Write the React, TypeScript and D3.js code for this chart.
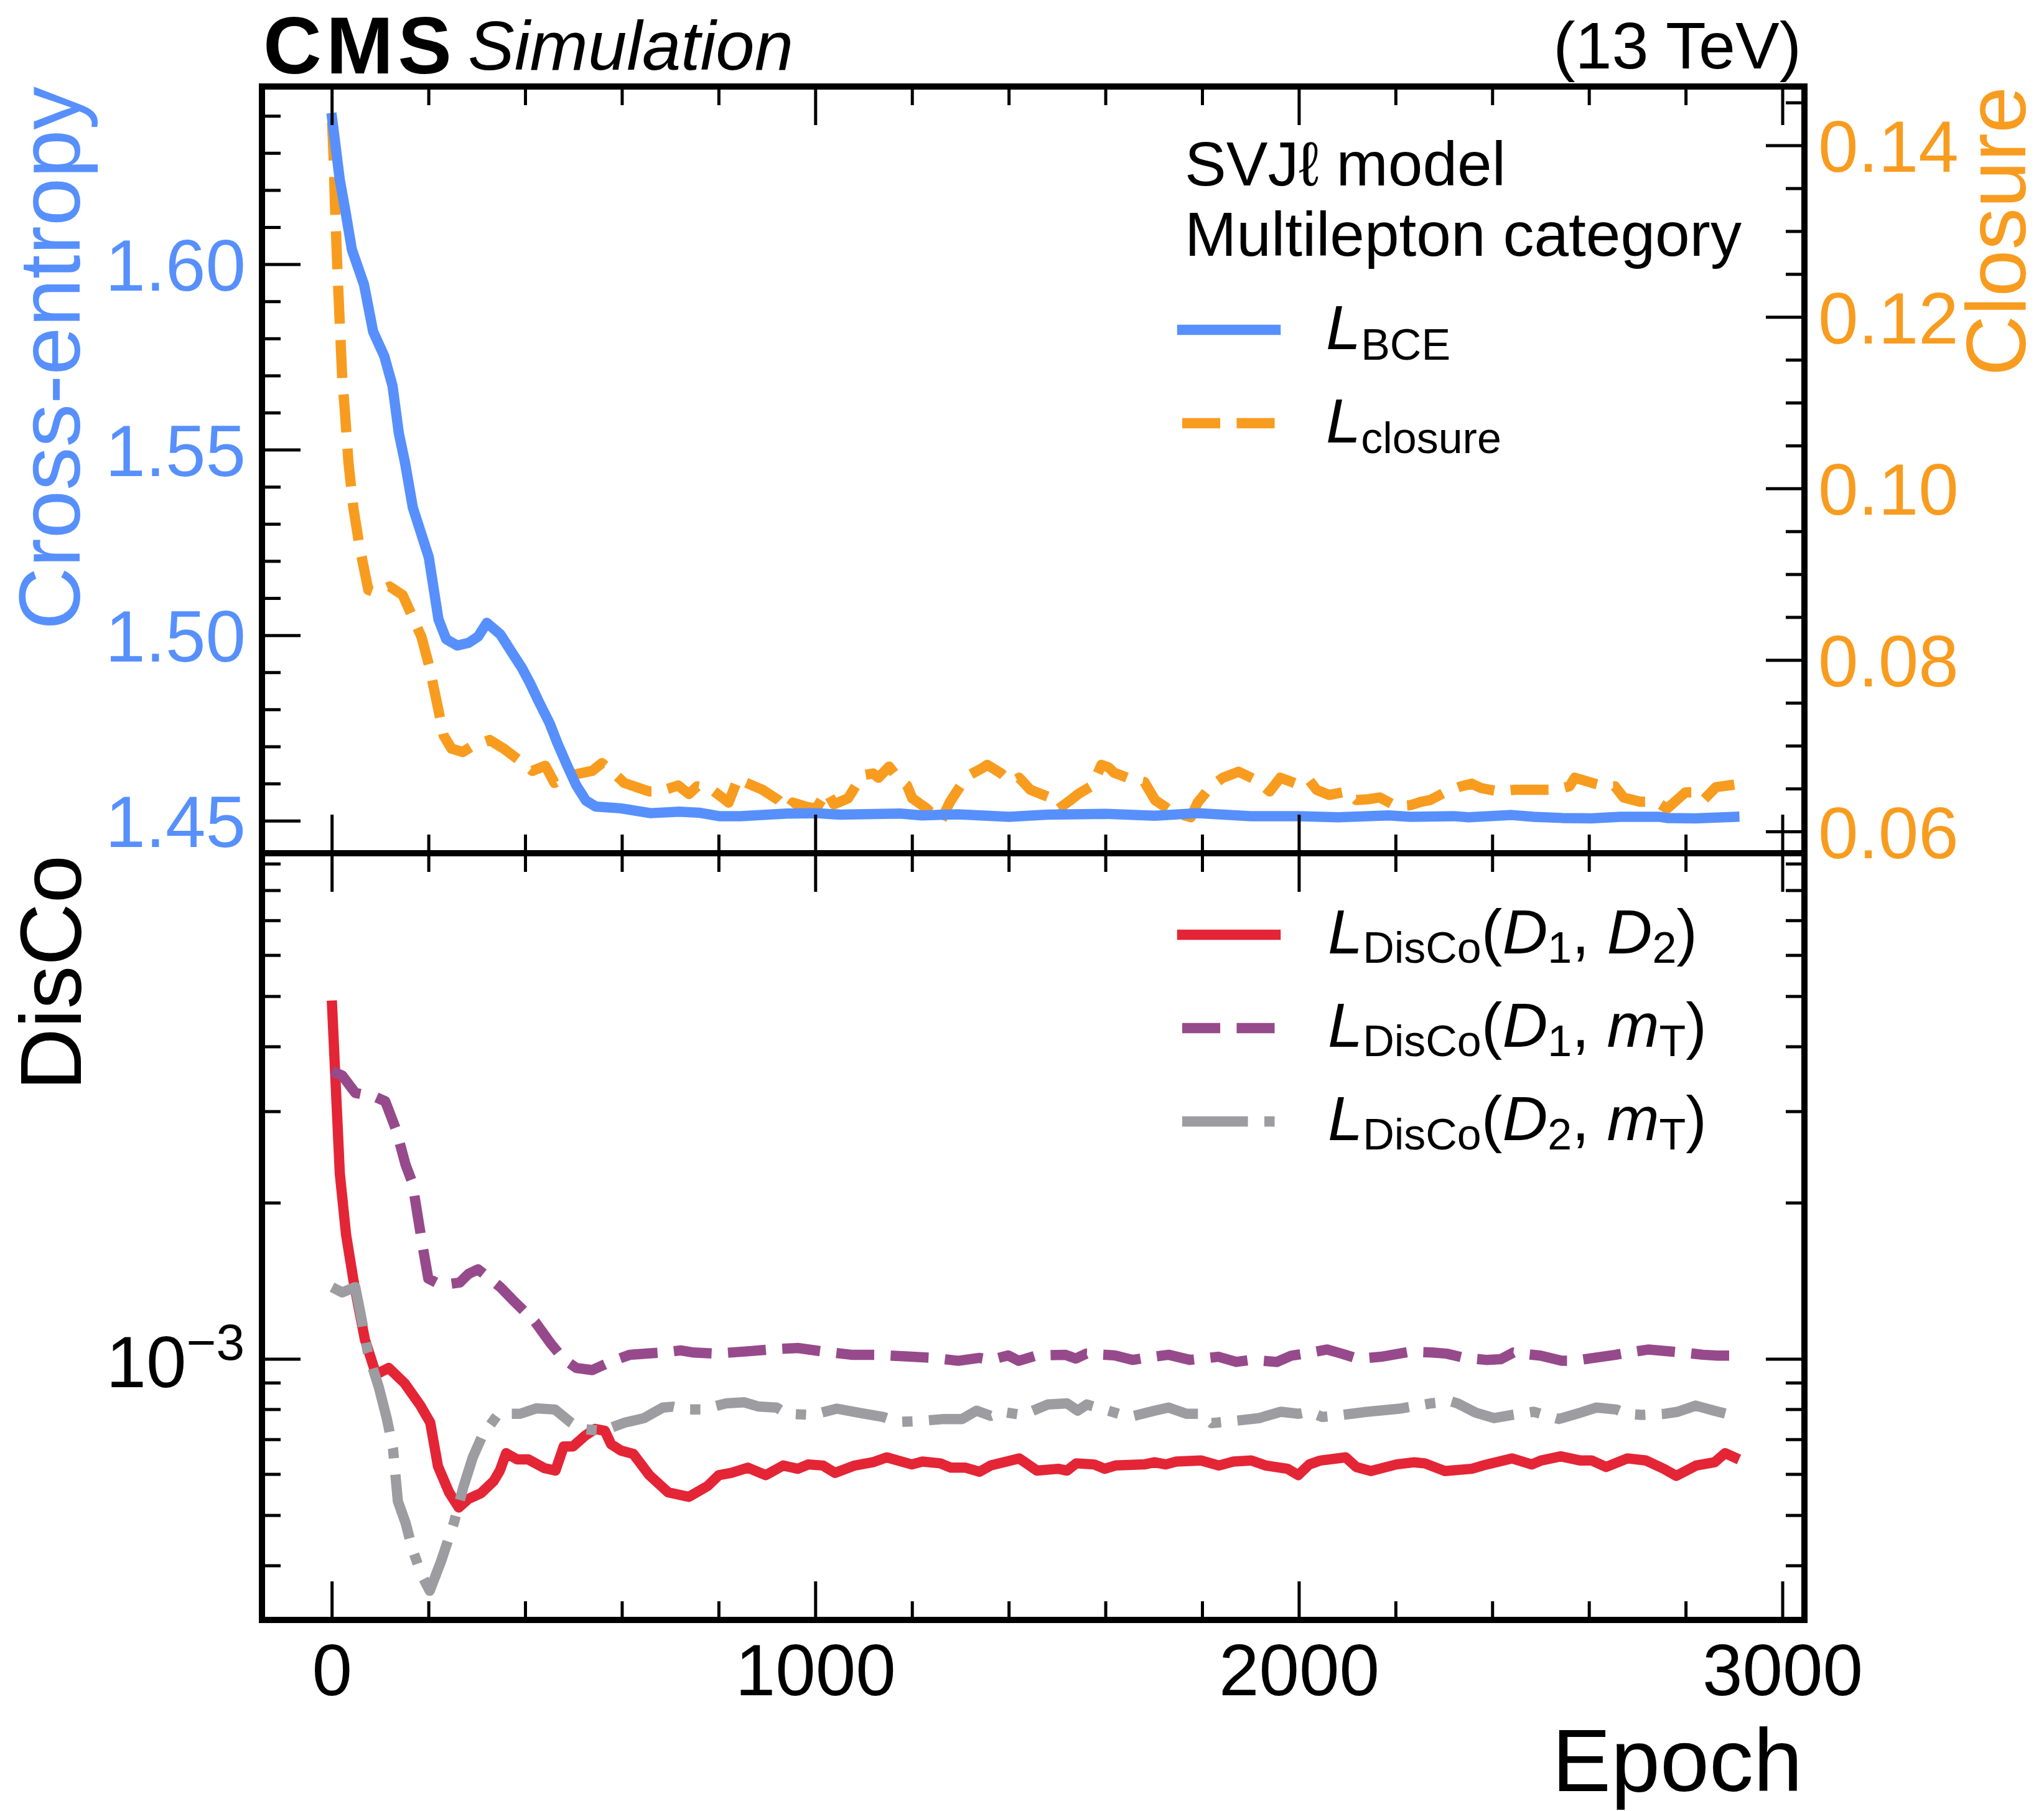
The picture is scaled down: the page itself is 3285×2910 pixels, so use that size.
import React from 'react';
import * as d3 from 'd3';

// ---------------- data ----------------
const ceEpochs = [0, 16, 28, 41, 66, 85, 108, 125, 138, 151, 167, 200, 220, 236, 259, 282, 302, 320, 348, 374, 392, 410, 427, 450, 466, 486, 505, 525, 545, 597, 659, 718, 761, 800, 845, 941, 1000, 1050, 1175, 1220, 1295, 1400, 1480, 1600, 1702, 1790, 1900, 1999, 2081, 2185, 2230, 2320, 2350, 2440, 2485, 2544, 2604, 2664, 2746, 2761, 2821, 2900];
const ceValues = [1.6395, 1.6228, 1.6141, 1.604, 1.5946, 1.5819, 1.5753, 1.5673, 1.5546, 1.5465, 1.5345, 1.5211, 1.5044, 1.499, 1.4973, 1.498, 1.4997, 1.5034, 1.5003, 1.495, 1.4914, 1.487, 1.4823, 1.4763, 1.471, 1.465, 1.4596, 1.4555, 1.4539, 1.4534, 1.4521, 1.4525, 1.4522, 1.4513, 1.4513, 1.452, 1.4521, 1.4517, 1.452, 1.4515, 1.4518, 1.4511, 1.4517, 1.4519, 1.4514, 1.4521, 1.4513, 1.4513, 1.451, 1.4515, 1.4511, 1.4513, 1.451, 1.4516, 1.4511, 1.4508, 1.4507, 1.4511, 1.4511, 1.4508, 1.4507, 1.4511];

const closureEpochs = [0, 3, 6, 11, 16, 21, 26, 34, 44, 57, 75, 90, 119, 146, 162, 185, 201, 214, 231, 247, 270, 290, 326, 355, 388, 414, 441, 460, 486, 538, 558, 578, 604, 656, 676, 716, 738, 755, 781, 809, 820, 840, 853, 890, 923, 942, 953, 982, 1001, 1023, 1038, 1067, 1097, 1119, 1130, 1152, 1170, 1189, 1200, 1230, 1259, 1277, 1300, 1321, 1344, 1355, 1384, 1403, 1421, 1444, 1480, 1503, 1525, 1543, 1573, 1591, 1606, 1617, 1654, 1680, 1702, 1739, 1776, 1790, 1816, 1842, 1875, 1912, 1939, 1961, 1999, 2021, 2036, 2062, 2099, 2118, 2144, 2167, 2200, 2230, 2252, 2271, 2305, 2335, 2357, 2376, 2413, 2447, 2485, 2518, 2544, 2559, 2570, 2612, 2634, 2653, 2671, 2705, 2739, 2761, 2799, 2817, 2836, 2862, 2900];
const closureValues = [0.1427, 0.1389, 0.1331, 0.1256, 0.1192, 0.1129, 0.1094, 0.103, 0.0978, 0.0932, 0.0882, 0.0879, 0.0886, 0.0876, 0.0856, 0.0827, 0.0793, 0.0758, 0.0712, 0.0697, 0.0693, 0.07, 0.0707, 0.0697, 0.0683, 0.0671, 0.0677, 0.0657, 0.0665, 0.0671, 0.068, 0.0671, 0.0657, 0.0647, 0.0647, 0.0654, 0.0644, 0.0653, 0.0651, 0.0639, 0.0634, 0.0663, 0.0658, 0.0649, 0.0637, 0.0626, 0.0634, 0.0629, 0.0627, 0.0647, 0.0632, 0.0639, 0.0666, 0.0668, 0.0663, 0.0676, 0.0663, 0.0654, 0.0639, 0.0627, 0.0612, 0.0634, 0.0654, 0.0667, 0.0674, 0.0678, 0.0668, 0.0658, 0.0663, 0.0649, 0.0641, 0.0627, 0.0636, 0.0644, 0.0654, 0.0678, 0.0675, 0.0669, 0.0661, 0.0658, 0.0637, 0.0623, 0.0617, 0.0634, 0.0652, 0.0663, 0.067, 0.066, 0.0647, 0.0663, 0.0655, 0.066, 0.0649, 0.0643, 0.0647, 0.0637, 0.0638, 0.064, 0.063, 0.0631, 0.0635, 0.0637, 0.0647, 0.0653, 0.0656, 0.0651, 0.0647, 0.0649, 0.0649, 0.0649, 0.0651, 0.0653, 0.0663, 0.0656, 0.0653, 0.0653, 0.064, 0.0635, 0.0635, 0.0627, 0.0646, 0.0646, 0.0637, 0.0652, 0.0655];

const d1d2Epochs = [0, 16, 29, 45, 68, 91, 117, 150, 182, 203, 219, 242, 262, 282, 308, 334, 347, 360, 383, 406, 439, 462, 479, 498, 524, 544, 564, 577, 597, 623, 656, 695, 738, 777, 800, 826, 860, 897, 933, 963, 985, 1015, 1040, 1081, 1118, 1147, 1199, 1221, 1258, 1280, 1310, 1339, 1362, 1421, 1458, 1502, 1520, 1539, 1576, 1598, 1620, 1680, 1701, 1724, 1746, 1797, 1834, 1864, 1901, 1931, 1976, 1998, 2021, 2044, 2096, 2118, 2148, 2201, 2238, 2260, 2301, 2357, 2380, 2440, 2481, 2500, 2541, 2582, 2605, 2635, 2679, 2717, 2754, 2780, 2821, 2859, 2881, 2900];
const d1d2Values = [4.8e-3, 2.28e-3, 1.737e-3, 1.405e-3, 1.09e-3, 9.35e-4, 9.62e-4, 8.99e-4, 8.16e-4, 7.55e-4, 6.22e-4, 5.54e-4, 5.18e-4, 5.38e-4, 5.52e-4, 5.82e-4, 6.1e-4, 6.59e-4, 6.41e-4, 6.41e-4, 6.17e-4, 6.1e-4, 6.79e-4, 6.79e-4, 7.13e-4, 7.34e-4, 7.28e-4, 6.86e-4, 6.67e-4, 6.57e-4, 5.98e-4, 5.54e-4, 5.43e-4, 5.7e-4, 5.98e-4, 6.04e-4, 6.18e-4, 5.98e-4, 6.24e-4, 6.15e-4, 6.27e-4, 6.24e-4, 6.04e-4, 6.24e-4, 6.33e-4, 6.47e-4, 6.27e-4, 6.35e-4, 6.3e-4, 6.18e-4, 6.18e-4, 6.07e-4, 6.24e-4, 6.44e-4, 6.1e-4, 6.15e-4, 6.1e-4, 6.3e-4, 6.27e-4, 6.15e-4, 6.24e-4, 6.27e-4, 6.33e-4, 6.27e-4, 6.35e-4, 6.38e-4, 6.24e-4, 6.35e-4, 6.38e-4, 6.24e-4, 6.15e-4, 5.98e-4, 6.27e-4, 6.38e-4, 6.47e-4, 6.2e-4, 6.09e-4, 6.27e-4, 6.33e-4, 6.3e-4, 6.09e-4, 6.15e-4, 6.24e-4, 6.44e-4, 6.27e-4, 6.38e-4, 6.5e-4, 6.38e-4, 6.38e-4, 6.2e-4, 6.44e-4, 6.38e-4, 6.15e-4, 5.96e-4, 6.24e-4, 6.33e-4, 6.59e-4, 6.47e-4];

const d1mtEpochs = [0, 21, 48, 90, 110, 133, 152, 166, 185, 199, 225, 264, 282, 302, 348, 374, 420, 453, 479, 505, 538, 577, 616, 682, 721, 748, 793, 867, 904, 963, 1015, 1074, 1125, 1199, 1243, 1295, 1339, 1362, 1398, 1420, 1457, 1516, 1538, 1560, 1619, 1656, 1678, 1730, 1774, 1833, 1870, 1900, 1954, 1984, 2010, 2058, 2088, 2122, 2170, 2230, 2275, 2305, 2342, 2387, 2417, 2443, 2458, 2499, 2543, 2569, 2610, 2655, 2681, 2723, 2794, 2835, 2865, 2900];
const d1mtValues = [3.59e-3, 3.52e-3, 3.26e-3, 3.2e-3, 3.14e-3, 2.76e-3, 2.37e-3, 2.19e-3, 1.7e-3, 1.43e-3, 1.39e-3, 1.405e-3, 1.46e-3, 1.49e-3, 1.377e-3, 1.3e-3, 1.18e-3, 1.07e-3, 1.0e-3, 9.62e-4, 9.53e-4, 9.9e-4, 1.02e-3, 1.03e-3, 1.04e-3, 1.03e-3, 1.025e-3, 1.037e-3, 1.044e-3, 1.051e-3, 1.035e-3, 1.02e-3, 1.02e-3, 1.011e-3, 1.006e-3, 9.93e-4, 1.006e-3, 9.97e-4, 1.017e-3, 9.93e-4, 1.017e-3, 1.02e-3, 1.003e-3, 1.025e-3, 1.017e-3, 9.97e-4, 1.005e-3, 1.02e-3, 9.97e-4, 1.011e-3, 9.88e-4, 9.97e-4, 9.88e-4, 1.016e-3, 1.025e-3, 1.044e-3, 1.025e-3, 1.002e-3, 1.011e-3, 1.034e-3, 1.03e-3, 1.025e-3, 1.006e-3, 9.97e-4, 1.0e-3, 1.03e-3, 1.025e-3, 1.016e-3, 9.93e-4, 9.93e-4, 1.006e-3, 1.02e-3, 1.03e-3, 1.044e-3, 1.03e-3, 1.02e-3, 1.016e-3, 1.016e-3];

const d2mtEpochs = [0, 21, 48, 58, 74, 97, 113, 126, 136, 152, 166, 185, 202, 225, 252, 271, 291, 311, 344, 389, 422, 461, 494, 514, 560, 606, 645, 684, 704, 730, 766, 815, 852, 881, 919, 941, 993, 1044, 1088, 1140, 1170, 1214, 1266, 1303, 1333, 1362, 1384, 1428, 1480, 1520, 1542, 1561, 1605, 1649, 1701, 1730, 1767, 1797, 1819, 1863, 1917, 1962, 1999, 2021, 2048, 2089, 2141, 2208, 2272, 2313, 2328, 2365, 2403, 2440, 2485, 2537, 2582, 2615, 2656, 2679, 2708, 2757, 2783, 2820, 2858, 2900];
const d2mtValues = [1.377e-3, 1.345e-3, 1.377e-3, 1.236e-3, 1.03e-3, 8.81e-4, 7.7e-4, 6.73e-4, 5.33e-4, 4.84e-4, 4.31e-4, 3.84e-4, 3.58e-4, 4.07e-4, 4.84e-4, 5.65e-4, 6.47e-4, 7.13e-4, 7.85e-4, 7.85e-4, 8.04e-4, 8.0e-4, 7.55e-4, 7.34e-4, 7.28e-4, 7.55e-4, 7.7e-4, 8.07e-4, 8.1e-4, 8.0e-4, 8.0e-4, 8.22e-4, 8.26e-4, 8.11e-4, 8.07e-4, 7.85e-4, 7.81e-4, 8.03e-4, 7.89e-4, 7.74e-4, 7.57e-4, 7.6e-4, 7.67e-4, 7.67e-4, 7.96e-4, 7.78e-4, 7.92e-4, 7.81e-4, 8.18e-4, 8.22e-4, 7.96e-4, 8.18e-4, 7.96e-4, 7.74e-4, 7.96e-4, 8.07e-4, 7.85e-4, 7.85e-4, 7.53e-4, 7.6e-4, 7.7e-4, 7.92e-4, 7.85e-4, 7.92e-4, 7.74e-4, 7.81e-4, 7.92e-4, 8.03e-4, 8.22e-4, 8.3e-4, 8.22e-4, 7.89e-4, 7.7e-4, 7.81e-4, 7.92e-4, 7.67e-4, 7.89e-4, 8.07e-4, 8.0e-4, 7.85e-4, 7.81e-4, 7.85e-4, 7.92e-4, 8.14e-4, 7.96e-4, 7.78e-4];

const xTickLabels = ['0', '1000', '2000', '3000'];
const ceTickLabels = ['1.45', '1.50', '1.55', '1.60'];
const closureTickLabels = ['0.06', '0.08', '0.10', '0.12', '0.14'];

// ---------------- style ----------------
const FONT = "'Liberation Sans', Arial, Helvetica, sans-serif";
const BLUE = '#5790fc';
const ORANGE = '#f89c20';
const RED = '#e42536';
const PURPLE = '#964a8b';
const GRAY = '#9c9ca1';
const LW = 16.5;
const DASH = `${3.7 * LW} ${1.6 * LW}`;
const DASHDOT = `${6.4 * LW} ${1.6 * LW} ${1 * LW} ${1.6 * LW}`;

const W = 3285, H = 2910;
const PL = 421, PR = 2900, PT = 139, PM = 1371, PB = 2603;
const MAJ = 62, MIN = 30;

export default function App() {
  const x = d3.scaleLinear().domain([-145, 3045]).range([PL, PR]);
  const yCE = d3.scaleLinear().domain([1.4413, 1.648]).range([PM, PT]);
  const yCl = d3.scaleLinear().domain([0.0575, 0.1469]).range([PM, PT]);
  const yLog = d3.scaleLog().domain([3.145e-4, 9.44e-3]).range([PB, PM]);

  const mk = (ys: (v: number) => number) =>
    d3.line<[number, number]>().x(d => x(d[0])).y(d => ys(d[1])).curve(d3.curveLinear);
  const zip = (a: number[], b: number[]) => a.map((e, i) => [e, b[i]] as [number, number]);

  const cePath = mk(yCE)(zip(ceEpochs, ceValues)) || '';
  const clPath = mk(yCl)(zip(closureEpochs, closureValues)) || '';
  const redPath = mk(yLog)(zip(d1d2Epochs, d1d2Values)) || '';
  const purPath = mk(yLog)(zip(d1mtEpochs, d1mtValues)) || '';
  const grayPath = mk(yLog)(zip(d2mtEpochs, d2mtValues)) || '';

  const xMajor = xTickLabels.map(Number);
  const xMinor = d3.range(0, 3001, 200).filter(v => v % 1000 !== 0);
  const ceMinor = d3.range(145, 165, 1).map(v => v / 100).filter(v => Math.round(v * 100) % 5 !== 0);
  const ceMajor = ceTickLabels.map(Number);
  const clMinor = d3.range(60, 146, 5).map(v => v / 1000).filter(v => Math.round(v * 1000) % 20 !== 0);
  const clMajor = closureTickLabels.map(Number);
  const logMinor: number[] = [];
  [1e-4, 1e-3].forEach(dec => d3.range(2, 10).forEach(k => {
    const v = k * dec;
    if (v >= 3.145e-4 && v <= 9.44e-3) logMinor.push(v);
  }));

  const tk = { stroke: '#000', strokeWidth: 5 } as const;

  const xTicks = (yEdge: number, dir: number, key: string) => (
    <g key={key}>
      {xMajor.map(v => <line key={'M' + v} x1={x(v)} x2={x(v)} y1={yEdge} y2={yEdge + dir * MAJ} {...tk} />)}
      {xMinor.map(v => <line key={'m' + v} x1={x(v)} x2={x(v)} y1={yEdge} y2={yEdge + dir * MIN} {...tk} />)}
    </g>
  );

  const legendHandle = (y: number, color: string, dash?: string) => (
    <line x1={1900} x2={2050} y1={y} y2={y} stroke={color} strokeWidth={LW}
      strokeDasharray={dash} strokeLinecap={dash ? 'butt' : 'square'} />
  );

  const SUB = 70, MAIN = 101, SH = 15;
  const discoLabel = (y: number, a: [string, string], b: [string, string], key: string) => (
    <text key={key} x={2134} y={y} fontSize={MAIN} fontFamily={FONT}>
      <tspan fontStyle="italic">L</tspan>
      <tspan fontSize={SUB} dy={SH}>DisCo</tspan>
      <tspan dy={-SH}>(</tspan>
      <tspan fontStyle="italic">{a[0]}</tspan>
      <tspan fontSize={SUB} dy={SH}>{a[1]}</tspan>
      <tspan dy={-SH}>, </tspan>
      <tspan fontStyle="italic">{b[0]}</tspan>
      <tspan fontSize={SUB} dy={SH}>{b[1]}</tspan>
      <tspan dy={-SH}>)</tspan>
    </text>
  );

  return (
    <svg width={W} height={H} viewBox={`0 0 ${W} ${H}`} style={{ position: 'absolute', left: 0, top: 0, background: '#fff' }}
      fontFamily={FONT}>
      <rect x={0} y={0} width={W} height={H} fill="#fff" />
      <defs>
        <clipPath id="clipTop"><rect x={PL} y={PT} width={PR - PL} height={PM - PT} /></clipPath>
        <clipPath id="clipBot"><rect x={PL} y={PM} width={PR - PL} height={PB - PM} /></clipPath>
      </defs>

      {/* data lines */}
      <g clipPath="url(#clipTop)" fill="none" strokeLinejoin="round">
        <path d={clPath} stroke={ORANGE} strokeWidth={LW} strokeDasharray={DASH} strokeLinecap="butt" />
        <path d={cePath} stroke={BLUE} strokeWidth={LW} strokeLinecap="square" />
      </g>
      <g clipPath="url(#clipBot)" fill="none" strokeLinejoin="round">
        <path d={redPath} stroke={RED} strokeWidth={LW} strokeLinecap="square" />
        <path d={purPath} stroke={PURPLE} strokeWidth={LW} strokeDasharray={DASH} strokeLinecap="butt" />
        <path d={grayPath} stroke={GRAY} strokeWidth={LW} strokeDasharray={DASHDOT} strokeLinecap="butt" />
      </g>

      {/* ticks: top panel */}
      {xTicks(PT, 1, 'tt')}
      {xTicks(PM, -1, 'tb')}
      {ceMajor.map(v => <line key={'ceM' + v} x1={PL} x2={PL + MAJ} y1={yCE(v)} y2={yCE(v)} {...tk} />)}
      {ceMinor.map(v => <line key={'cem' + v} x1={PL} x2={PL + MIN} y1={yCE(v)} y2={yCE(v)} {...tk} />)}
      {clMajor.map(v => <line key={'clM' + v} x1={PR} x2={PR - MAJ} y1={yCl(v)} y2={yCl(v)} {...tk} />)}
      {clMinor.map(v => <line key={'clm' + v} x1={PR} x2={PR - MIN} y1={yCl(v)} y2={yCl(v)} {...tk} />)}

      {/* ticks: bottom panel */}
      {xTicks(PM, 1, 'bt')}
      {xTicks(PB, -1, 'bb')}
      <line x1={PL} x2={PL + MAJ} y1={yLog(1e-3)} y2={yLog(1e-3)} {...tk} />
      <line x1={PR} x2={PR - MAJ} y1={yLog(1e-3)} y2={yLog(1e-3)} {...tk} />
      {logMinor.map(v => (
        <g key={'lg' + v}>
          <line x1={PL} x2={PL + MIN} y1={yLog(v)} y2={yLog(v)} {...tk} />
          <line x1={PR} x2={PR - MIN} y1={yLog(v)} y2={yLog(v)} {...tk} />
        </g>
      ))}

      {/* frames */}
      <rect x={PL} y={PT} width={PR - PL} height={PM - PT} fill="none" stroke="#000" strokeWidth={10} />
      <rect x={PL} y={PM} width={PR - PL} height={PB - PM} fill="none" stroke="#000" strokeWidth={10} />

      {/* tick labels */}
      {ceTickLabels.map(s => (
        <text key={'cel' + s} x={395} y={yCE(Number(s)) + 42} fontSize={116} fill={BLUE} textAnchor="end">{s}</text>
      ))}
      {closureTickLabels.map(s => (
        <text key={'cll' + s} x={2922} y={yCl(Number(s)) + 42} fontSize={116} fill={ORANGE} textAnchor="start">{s}</text>
      ))}
      {xTickLabels.map(s => (
        <text key={'xl' + s} x={x(Number(s))} y={2724} fontSize={116} textAnchor="middle">{s}</text>
      ))}
      <text x={393} y={yLog(1e-3) + 45} fontSize={116} textAnchor="end">
        10<tspan fontSize={82} dy={-44}>−3</tspan>
      </text>

      {/* axis labels */}
      <text transform={`translate(128, ${PT}) rotate(-90)`} fontSize={139} fill={BLUE} textAnchor="end">Cross-entropy</text>
      <text transform={`translate(130, ${PM + 3}) rotate(-90)`} fontSize={139} fill="#000" textAnchor="end">DisCo</text>
      <text transform={`translate(3255, ${PT}) rotate(-90)`} fontSize={135} fill={ORANGE} textAnchor="end">Closure</text>
      <text x={2897} y={2878} fontSize={142} textAnchor="end">Epoch</text>

      {/* CMS header */}
      <text x={423} y={118} fontSize={130} fontWeight="bold" letterSpacing={7}>CMS</text>
      <text x={752} y={112} fontSize={112} fontStyle="italic">Simulation</text>
      <text x={2895} y={110} fontSize={106} textAnchor="end">(13 TeV)</text>

      {/* legend top */}
      <text x={1904} y={298} fontSize={100}>SVJℓ model</text>
      <text x={1904} y={411} fontSize={100}>Multilepton category</text>
      {legendHandle(530, BLUE)}
      <text x={2131} y={561} fontSize={MAIN}>
        <tspan fontStyle="italic">L</tspan>
        <tspan fontSize={SUB} dy={SH + 2}>BCE</tspan>
      </text>
      {legendHandle(680, ORANGE, DASH)}
      <text x={2131} y={711} fontSize={MAIN}>
        <tspan fontStyle="italic">L</tspan>
        <tspan fontSize={SUB} dy={SH + 2}>closure</tspan>
      </text>

      {/* legend bottom */}
      {legendHandle(1502, RED)}
      {discoLabel(1532, ['D', '1'], ['D', '2'], 'l1')}
      {legendHandle(1652, PURPLE, DASH)}
      {discoLabel(1682, ['D', '1'], ['m', 'T'], 'l2')}
      {legendHandle(1802, GRAY, DASHDOT)}
      {discoLabel(1832, ['D', '2'], ['m', 'T'], 'l3')}
    </svg>
  );
}
